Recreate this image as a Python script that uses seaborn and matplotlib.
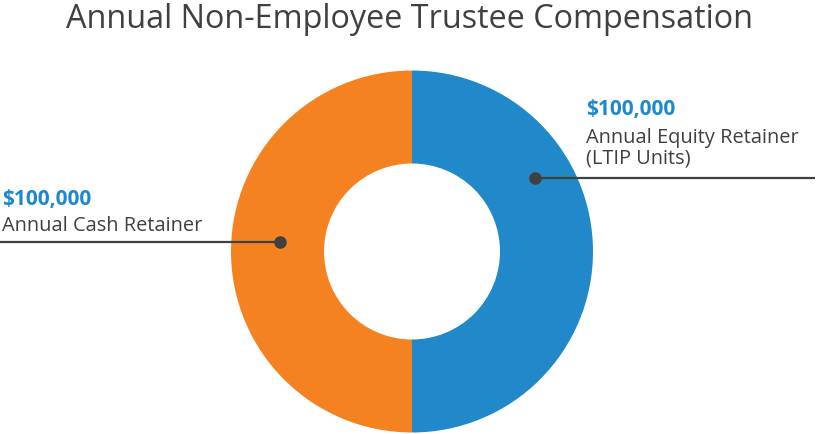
import matplotlib
matplotlib.use("Agg")
import matplotlib.pyplot as plt
import seaborn as sns

# Data
categories = ["Annual Cash Retainer", "Annual Equity Retainer\n(LTIP Units)"]
values = [100000, 100000]
value_labels = ["$100,000", "$100,000"]
colors = ["#F58220", "#2188C9"]
title = "Annual Non-Employee Trustee Compensation"

sns.set_theme(style="white")
plt.rcParams["font.family"] = ["Open Sans", "DejaVu Sans"]

W, H = 818, 434
fig = plt.figure(figsize=(W / 100, H / 100), dpi=100)
ax = fig.add_axes([0, 0, 1, 1])

cx, cy, R = 412, H - 251.5, 181
ax.pie(values, colors=colors, startangle=90, counterclock=True,
       center=(cx, cy), radius=R,
       wedgeprops=dict(width=R - 88, linewidth=0), frame=True)
ax.set_xlim(0, W)
ax.set_ylim(0, H)
ax.set_aspect("equal")
ax.axis("off")

dark = "#404040"
blue = "#1E88CF"

fig.text(0.5, 1 - 19 / H, title, ha="center", va="center",
         fontsize=23.3, color=dark)

# Left label (cash)
ax.plot([0, 280], [H - 242, H - 242], color=dark, lw=1.6, solid_capstyle="butt")
ax.plot([280], [H - 242], "o", color=dark, ms=8)
ax.text(2, H - 200, value_labels[0], ha="left", va="center",
        fontsize=15, fontweight="bold", color=blue)
ax.text(2, H - 226, categories[0], ha="left", va="center",
        fontsize=14.4, color=dark)

# Right label (equity)
ax.plot([535, 815], [H - 178, H - 178], color=dark, lw=1.6, solid_capstyle="butt")
ax.plot([535], [H - 178], "o", color=dark, ms=8)
ax.text(586, H - 110, value_labels[1], ha="left", va="center",
        fontsize=15, fontweight="bold", color=blue)
ax.text(586, H - 148, categories[1], ha="left", va="center",
        fontsize=14.4, color=dark, linespacing=1.05)

fig.savefig("out.png", dpi=100)
